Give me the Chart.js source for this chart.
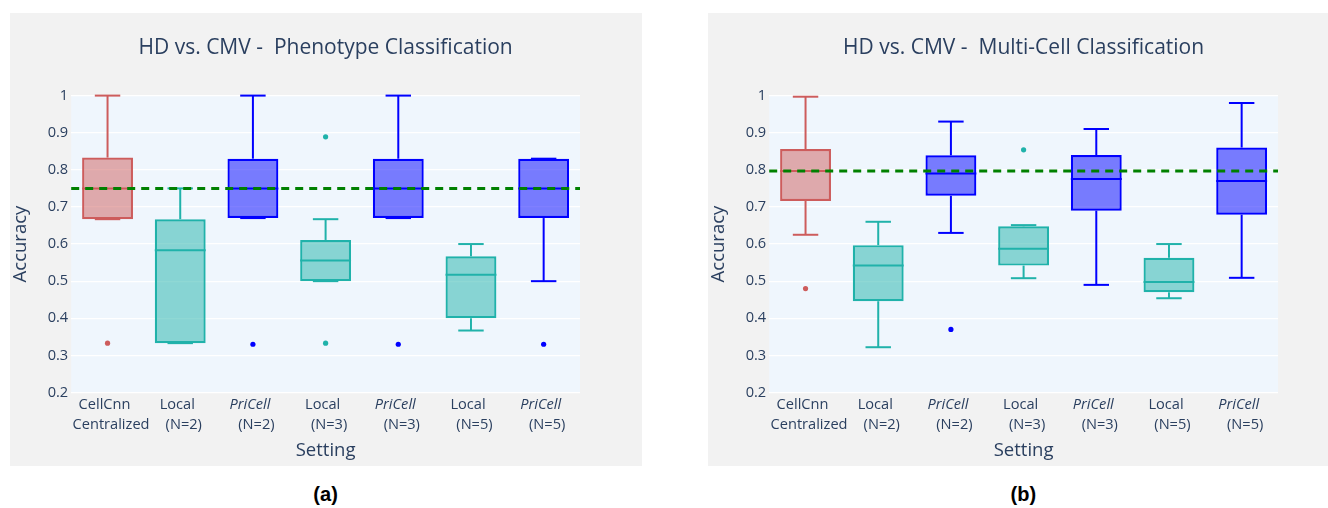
<!DOCTYPE html>
<html>
<head>
<meta charset="utf-8">
<script src="https://cdn.jsdelivr.net/npm/chart.js@4.4.1/dist/chart.umd.min.js"></script>
<style>
  html, body { margin: 0; padding: 0; background: #ffffff; width: 1328px; height: 508px; overflow: hidden; position: relative; }
  canvas { position: absolute; top: 13px; }
  #phenotypeChart { left: 10px; }
  #multiCellChart { left: 708px; }
  .caption { position: absolute; top: 483px; font: bold 20px "Liberation Sans", Arial, sans-serif; color: #000; transform: translateX(-50%); white-space: nowrap; }
</style>
</head>
<body>
<canvas id="phenotypeChart" width="632" height="453"></canvas>
<canvas id="multiCellChart" width="620" height="453"></canvas>
<div class="caption" style="left:325.6px">(a)</div>
<div class="caption" style="left:1023.3px">(b)</div>
<script>
// ---- categories and axis labels ----
const categories = ['CellCnn Centralized', 'Local (N=2)', 'PriCell (N=2)', 'Local (N=3)', 'PriCell (N=3)', 'Local (N=5)', 'PriCell (N=5)'];
const tickTop = ['CellCnn', 'Local', 'PriCell', 'Local', 'PriCell', 'Local', 'PriCell'];
const tickBottom = ['Centralized', '(N=2)', '(N=2)', '(N=3)', '(N=3)', '(N=5)', '(N=5)'];
const tickTopItalic = [false, false, true, false, true, false, true];
const yTicks = [0.2, 0.3, 0.4, 0.5, 0.6, 0.7, 0.8, 0.9, 1];
const yTickLabels = ['0.2', '0.3', '0.4', '0.5', '0.6', '0.7', '0.8', '0.9', '1'];

// ---- HD vs. CMV, phenotype classification ----
const phenoLow    = [0.667, 0.333, 0.67, 0.5,   0.67, 0.367, 0.5];
const phenoQ1     = [0.667, 0.333, 0.67, 0.5,   0.67, 0.4,   0.67];
const phenoMedian = [0.75,  0.583, 0.75, 0.556, 0.75, 0.517, 0.75];
const phenoQ3     = [0.833, 0.667, 0.83, 0.611, 0.83, 0.567, 0.83];
const phenoHigh   = [1.0,   0.75,  1.0,  0.667, 1.0,  0.6,   0.83];
const phenoOutlierCat = [0, 2, 3, 3, 4, 6];
const phenoOutlierVal = [0.333, 0.33, 0.889, 0.333, 0.33, 0.33];
const phenoReference = 0.75;

// ---- HD vs. CMV, multi-cell classification ----
const multiLow    = [0.625, 0.322, 0.63,  0.508, 0.49,  0.454, 0.509];
const multiQ1     = [0.716, 0.446, 0.73,  0.542, 0.69,  0.47,  0.679];
const multiMedian = [0.797, 0.542, 0.79,  0.587, 0.775, 0.498, 0.77];
const multiQ3     = [0.856, 0.597, 0.839, 0.648, 0.84,  0.563, 0.86];
const multiHigh   = [0.997, 0.66,  0.93,  0.651, 0.91,  0.6,   0.98];
const multiOutlierCat = [0, 2, 3];
const multiOutlierVal = [0.48, 0.37, 0.854];
const multiReference = 0.797;

// ---- styling ----
const lineColors = ['#CD5C5C', '#20B2AA', '#0000FF', '#20B2AA', '#0000FF', '#20B2AA', '#0000FF'];
const fillColors = ['rgba(205,92,92,0.5)', 'rgba(32,178,170,0.5)', 'rgba(0,0,255,0.5)', 'rgba(32,178,170,0.5)', 'rgba(0,0,255,0.5)', 'rgba(32,178,170,0.5)', 'rgba(0,0,255,0.5)'];
const textColor = '#2a3f5f';
const fontFamily = '"Open Sans", "DejaVu Sans", sans-serif';

Chart.defaults.font.family = fontFamily;
Chart.defaults.color = textColor;

function makeBoxChart(canvasId, title, low, q1, median, q3, high, outCat, outVal, reference) {
  const canvas = document.getElementById(canvasId);

  const boxPlugin = {
    id: 'boxParts',
    beforeDraw(chart) {
      const { ctx, chartArea: a } = chart;
      ctx.save();
      ctx.fillStyle = '#f2f2f2';
      ctx.fillRect(0, 0, chart.width, chart.height);
      ctx.fillStyle = 'rgb(239,246,253)';
      ctx.fillRect(a.left, a.top, a.right - a.left, a.bottom - a.top);
      ctx.restore();
    },
    afterDatasetsDraw(chart) {
      const { ctx, chartArea: a } = chart;
      const y = chart.scales.y;
      const bars = chart.getDatasetMeta(0).data;
      const seg = (x1, y1, x2, y2) => { ctx.beginPath(); ctx.moveTo(x1, y1); ctx.lineTo(x2, y2); ctx.stroke(); };
      ctx.save();
      ctx.lineWidth = 2;
      bars.forEach((bar, i) => {
        const x = bar.x, w = bar.width;
        const yLow = y.getPixelForValue(low[i]);
        const yQ1 = y.getPixelForValue(q1[i]);
        const yMed = y.getPixelForValue(median[i]);
        const yQ3 = y.getPixelForValue(q3[i]);
        const yHigh = y.getPixelForValue(high[i]);
        ctx.strokeStyle = lineColors[i];
        // whiskers and caps
        seg(x, yQ3, x, yHigh);
        seg(x - w / 4, yHigh, x + w / 4, yHigh);
        seg(x, yQ1, x, yLow);
        seg(x - w / 4, yLow, x + w / 4, yLow);
        // median
        seg(x - w / 2, yMed, x + w / 2, yMed);
      });
      // dashed reference level
      const yRef = y.getPixelForValue(reference);
      ctx.strokeStyle = '#008000';
      ctx.lineWidth = 3;
      ctx.setLineDash([8, 6]);
      seg(a.left, yRef, a.right, yRef);
      ctx.restore();
    },
    afterDraw(chart) {
      const { ctx, chartArea: a } = chart;
      const xs = chart.scales.x;
      ctx.save();
      ctx.fillStyle = textColor;
      ctx.textAlign = 'center';
      ctx.textBaseline = 'alphabetic';
      // chart title
      ctx.font = '21px ' + fontFamily;
      ctx.fillText(title, (a.left + a.right) / 2, 41.3);
      // two-line category labels
      categories.forEach((c, i) => {
        const x = xs.getPixelForValue(i);
        ctx.font = (tickTopItalic[i] ? 'italic ' : '') + '14.6px ' + fontFamily;
        ctx.fillText(tickTop[i], x - 3, a.bottom + 16.2);
        ctx.font = '14.6px ' + fontFamily;
        ctx.fillText(tickBottom[i], x + 3.5, a.bottom + 36.2);
      });
      ctx.restore();
    }
  };

  return new Chart(canvas, {
    type: 'bar',
    data: {
      labels: categories,
      datasets: [
        {
          label: 'boxes',
          data: q1.map((v, i) => [v, q3[i]]),
          backgroundColor: fillColors,
          borderColor: lineColors,
          borderWidth: 2.2,
          borderSkipped: false,
          categoryPercentage: 0.7,
          barPercentage: 1.0,
          order: 2
        },
        {
          type: 'line',
          label: 'outliers',
          data: outCat.map((c, i) => ({ x: categories[c], y: outVal[i] })),
          showLine: false,
          pointRadius: 2.6,
          pointBorderWidth: 0,
          pointBackgroundColor: outCat.map(c => lineColors[c]),
          order: 1
        }
      ]
    },
    options: {
      responsive: false,
      animation: false,
      events: [],
      devicePixelRatio: 1,
      layout: { padding: { top: 82.6, right: canvas.width - 570, left: 0, bottom: 0 } },
      plugins: { legend: { display: false }, tooltip: { enabled: false }, title: { display: false } },
      scales: {
        x: {
          type: 'category',
          offset: true,
          grid: { display: false },
          border: { display: false },
          ticks: { display: false },
          title: { display: true, text: 'Setting', font: { size: 18.5 }, color: textColor, padding: { top: 0, bottom: 4 } },
          afterFit(scale) { scale.height = 73.5; }
        },
        y: {
          type: 'linear',
          min: 0.2,
          max: 1,
          afterBuildTicks(scale) { scale.ticks = yTicks.map(v => ({ value: v })); },
          ticks: { padding: 3, font: { size: 14.6 }, color: textColor, callback: (v, idx) => yTickLabels[idx] },
          grid: { color: '#ffffff', lineWidth: 1.2, drawTicks: false },
          border: { display: false },
          title: { display: true, text: 'Accuracy', font: { size: 18.5 }, color: textColor, padding: { top: 0, bottom: 0 } },
          afterFit(scale) { scale.width = 61.2; }
        }
      }
    },
    plugins: [boxPlugin]
  });
}

makeBoxChart('phenotypeChart', 'HD vs. CMV -  Phenotype Classification',
  phenoLow, phenoQ1, phenoMedian, phenoQ3, phenoHigh, phenoOutlierCat, phenoOutlierVal, phenoReference);
makeBoxChart('multiCellChart', 'HD vs. CMV -  Multi-Cell Classification',
  multiLow, multiQ1, multiMedian, multiQ3, multiHigh, multiOutlierCat, multiOutlierVal, multiReference);
</script>
</body>
</html>
